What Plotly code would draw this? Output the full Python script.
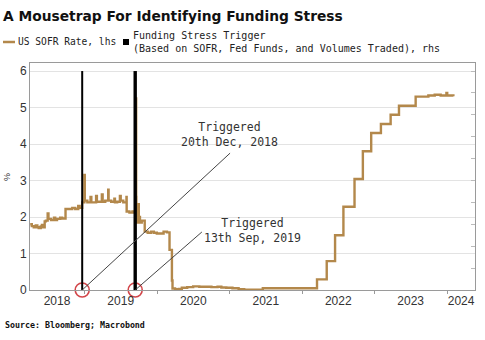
import plotly.graph_objects as go

# ---------------- data ----------------
sofr_dates = [
    "2018-04-02", "2018-04-10", "2018-04-20", "2018-04-30", "2018-05-08", "2018-05-15",
    "2018-05-25", "2018-05-31", "2018-06-05", "2018-06-14", "2018-06-20", "2018-06-29",
    "2018-07-03", "2018-07-16", "2018-07-31", "2018-08-06", "2018-08-15", "2018-08-31",
    "2018-09-10", "2018-09-27", "2018-10-15", "2018-10-31", "2018-11-15", "2018-11-30",
    "2018-12-07", "2018-12-20", "2018-12-31", "2019-01-02", "2019-01-15", "2019-01-31",
    "2019-02-04", "2019-02-15", "2019-02-28", "2019-03-04", "2019-03-15", "2019-03-29",
    "2019-04-02", "2019-04-15", "2019-04-30", "2019-05-02", "2019-05-15", "2019-05-31",
    "2019-06-03", "2019-06-14", "2019-06-28", "2019-07-02", "2019-07-15", "2019-07-31",
    "2019-08-01", "2019-08-15", "2019-08-30", "2019-09-03", "2019-09-16", "2019-09-17",
    "2019-09-18", "2019-09-19", "2019-09-23", "2019-09-30", "2019-10-01", "2019-10-07",
    "2019-10-16", "2019-10-31", "2019-11-15", "2019-12-02", "2019-12-16", "2019-12-31",
    "2020-01-15", "2020-02-03", "2020-02-20", "2020-03-04", "2020-03-16", "2020-03-19",
    "2020-04-01", "2020-04-20", "2020-05-05", "2020-06-01", "2020-07-01", "2020-08-01",
    "2020-09-01", "2020-10-01", "2020-11-01", "2020-11-20", "2020-12-15", "2021-01-15",
    "2021-02-15", "2021-03-15", "2021-04-15", "2021-06-17", "2021-08-01", "2021-10-01",
    "2021-12-01", "2022-01-15", "2022-03-17", "2022-05-05", "2022-06-16", "2022-07-28",
    "2022-09-22", "2022-11-03", "2022-12-15", "2023-02-02", "2023-03-23", "2023-05-04",
    "2023-07-27", "2023-09-29", "2023-10-31", "2023-11-30", "2023-12-29", "2024-01-02",
    "2024-02-02",
]
sofr_values = [
    1.80, 1.75, 1.72, 1.77, 1.72, 1.70,
    1.74, 1.78, 1.72, 1.88, 1.90, 2.10,
    1.95, 1.92, 1.98, 1.92, 1.95, 1.98,
    1.96, 2.22, 2.22, 2.25, 2.22, 2.30,
    2.25, 2.40, 3.15, 2.45, 2.40, 2.55,
    2.40, 2.40, 2.58, 2.42, 2.42, 2.62,
    2.42, 2.45, 2.75, 2.45, 2.42, 2.50,
    2.40, 2.42, 2.58, 2.45, 2.40, 2.55,
    2.15, 2.12, 2.15, 2.12, 2.43, 5.25,
    2.55, 1.95, 1.85, 2.35, 2.00, 1.85,
    1.90, 1.60, 1.57, 1.60, 1.57, 1.55,
    1.55, 1.60, 1.58, 1.10, 0.26, 0.04,
    0.02, 0.03, 0.06, 0.08, 0.10, 0.09,
    0.09, 0.08, 0.09, 0.07, 0.06, 0.05,
    0.02, 0.01, 0.01, 0.05, 0.05, 0.05,
    0.05, 0.05, 0.29, 0.79, 1.50, 2.28,
    3.04, 3.80, 4.30, 4.55, 4.80, 5.05,
    5.30, 5.33, 5.35, 5.33, 5.40, 5.33,
    5.31,
]

trigger_dates = ["2018-12-20", "2019-09-13"]
trigger_values = [1, 1]
trigger_labels = ["Triggered<br>20th Dec, 2018", "Triggered<br>13th Sep, 2019"]

year_labels = ["2018", "2019", "2020", "2021", "2022", "2023", "2024"]
year_label_pos = ["2018-08-15", "2019-07-02", "2020-07-02", "2021-07-02",
                  "2022-07-02", "2023-07-02", "2024-03-12"]

SOFR_COLOR = "#b3884b"
MONO = "DejaVu Sans Mono"

# pixel helpers for decorations in paper coordinates
pl, pt, pw, ph = 30, 63, 445, 227
def px_x(x):
    return (x - pl) / pw
def px_y(y):
    return (pt + ph - y) / ph

fig = go.Figure()

# trigger vertical bars (rhs)
trigger_widths = [2.0, 3.4]
for d, v, w in zip(trigger_dates, trigger_values, trigger_widths):
    fig.add_trace(go.Scatter(x=[d, d], y=[0, v], mode="lines", yaxis="y2",
                             line=dict(color="black", width=w), showlegend=False,
                             hoverinfo="skip"))

fig.add_trace(go.Scatter(x=sofr_dates, y=sofr_values, mode="lines",
                         line=dict(color=SOFR_COLOR, width=2.4, shape="hv"),
                         name="US SOFR Rate, lhs", showlegend=False))

# red circles
fig.add_trace(go.Scatter(x=trigger_dates, y=[0, 0], mode="markers",
                         marker=dict(symbol="circle-open", size=14, color="#d2464a",
                                     line=dict(width=1.6)),
                         showlegend=False, cliponaxis=False, hoverinfo="skip"))

# connector lines and texts
line_ends = [("2021-01-03", 3.75), ("2020-08-14", 1.59)]
text_pos = [("2021-01-01", 4.26), ("2021-04-28", 1.62)]
for d, (ex, ey), (tx_, ty_), lab in zip(trigger_dates, line_ends, text_pos, trigger_labels):
    fig.add_shape(type="line", xref="x", yref="y", x0=d, y0=0, x1=ex, y1=ey,
                  line=dict(color="#444444", width=1))
    fig.add_annotation(x=tx_, y=ty_, xref="x", yref="y", text=lab, showarrow=False,
                       font=dict(family=MONO, size=11.5, color="#333333"),
                       align="center")

fig.update_layout(
    width=485, height=340,
    margin=dict(l=30, r=10, t=63, b=50, autoexpand=False),
    paper_bgcolor="white", plot_bgcolor="white",
    showlegend=False,
    xaxis=dict(
        type="date", automargin=False,
        range=["2018-04-01", "2024-05-21"],
        tickmode="array", tickvals=year_label_pos, ticktext=year_labels,
        ticks="", ticklen=0,
        tickfont=dict(family="Liberation Sans", size=12, color="#333333"),
        showgrid=False, showline=True, linecolor="#9a9a9a", linewidth=1, mirror=True,
        minor=dict(ticks="outside", ticklen=3, tickcolor="#9a9a9a",
                   dtick="M12", tick0="2018-01-01", showgrid=False),
        zeroline=False,
    ),
    yaxis=dict(
        automargin=False,
        range=[0, 6.22], dtick=1, tick0=0,
        tickfont=dict(family="Liberation Sans", size=12, color="#333333"),
        showgrid=True, gridcolor="#e3e3e3", gridwidth=1,
        showline=True, linecolor="#9a9a9a", linewidth=1, mirror=True,
        zeroline=False, ticks="",
    ),
    yaxis2=dict(
        overlaying="y", side="right", range=[0, 1.0367], dtick=0.1, tick0=0,
        showticklabels=False, ticks="inside", ticklen=4, tickcolor="#bbbbbb",
        showgrid=False, zeroline=False, showline=False, automargin=False,
    ),
)

# y-axis unit label
fig.add_annotation(x=px_x(7), y=px_y(177), xref="paper", yref="paper", text="%",
                   showarrow=False, textangle=-90, xanchor="center", yanchor="middle",
                   font=dict(family="Liberation Sans", size=9, color="#333333"))
# title
fig.add_annotation(x=px_x(1), y=px_y(16), xref="paper", yref="paper",
                   text="<b>A Mousetrap For Identifying Funding Stress</b>",
                   showarrow=False, xanchor="left", yanchor="middle",
                   font=dict(family="DejaVu Sans", size=13.8, color="#111111"))
# legend
fig.add_shape(type="line", xref="paper", yref="paper", x0=px_x(3), x1=px_x(15),
              y0=px_y(42), y1=px_y(42), line=dict(color=SOFR_COLOR, width=2.5))
fig.add_annotation(x=px_x(16), y=px_y(42), xref="paper", yref="paper",
                   text="US SOFR Rate, lhs", showarrow=False, xanchor="left", yanchor="middle",
                   font=dict(family=MONO, size=9.6, color="#222222"))
fig.add_shape(type="rect", xref="paper", yref="paper", x0=px_x(123), x1=px_x(129),
              y0=px_y(45), y1=px_y(39), fillcolor="black", line=dict(width=0))
fig.add_annotation(x=px_x(131), y=px_y(42), xref="paper", yref="paper",
                   text="Funding Stress Trigger<br>(Based on SOFR, Fed Funds, and Volumes Traded), rhs",
                   showarrow=False, xanchor="left", yanchor="middle", align="left",
                   font=dict(family=MONO, size=10, color="#222222"))
# source
fig.add_annotation(x=px_x(3), y=px_y(325), xref="paper", yref="paper",
                   text="<b>Source: Bloomberg; Macrobond</b>", showarrow=False,
                   xanchor="left", yanchor="middle",
                   font=dict(family=MONO, size=8.3, color="#111111"))

fig.write_html("out.html")
